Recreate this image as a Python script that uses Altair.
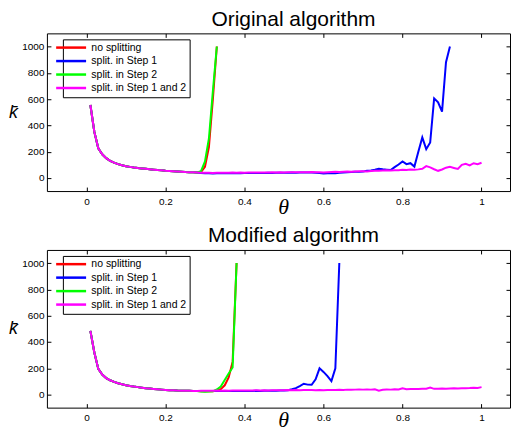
import altair as alt
import pandas as pd

SERIES = ["no splitting", "split. in Step 1", "split. in Step 2", "split. in Step 1 and 2"]
COLORS = ["#ff0000", "#0000ff", "#00ff00", "#ff00ff"]
X_TICKS = [0, 0.2, 0.4, 0.6, 0.8, 1]
Y_TICKS = [0, 200, 400, 600, 800, 1000]
THETA = [round(0.01 * i, 2) for i in range(1, 101)]

# ---- Original algorithm (theta = 0.01 ... ) ----
ORIG_START = [555, 350, 225, 180, 150, 130, 116, 105, 96, 89, 84, 79, 75, 72,
              69, 66, 63, 60, 58, 55, 53, 51, 49, 47, 45, 44, 43, 42]
ORIG_RED = [44, 85, 235, 600, 1000]
ORIG_GREEN = [52, 125, 300, 660, 1000]
ORIG_BLUE = [37, 36, 35, 34, 36, 35, 36, 35, 36, 37, 36, 37, 38, 37, 38, 38,
             37, 39, 38, 39, 40, 39, 40, 41, 40, 41, 42, 41, 42, 40, 38, 34,
             36, 38, 35, 39, 42, 44, 45, 47, 46, 48, 55, 57, 62, 70, 66, 63,
             60, 82, 102, 125, 105, 112, 86, 200, 308, 219, 270, 605, 575, 504,
             880, 1000]
ORIG_MAGENTA = [40, 39, 40, 38, 40, 39, 40, 39, 41, 40, 41, 40, 41, 42, 41, 42,
                41, 42, 43, 42, 43, 42, 43, 44, 43, 44, 43, 44, 45, 44, 43, 42,
                44, 45, 46, 45, 47, 48, 47, 49, 50, 51, 48, 53, 55, 54, 56, 58,
                57, 59, 58, 62, 60, 64, 62, 65, 70, 90, 80, 66, 54, 64, 78, 84,
                76, 68, 100, 108, 95, 112, 104, 115]

# ---- Modified algorithm ----
MOD_START = [484, 320, 195, 152, 125, 108, 96, 86, 78, 71, 65, 60, 56, 52,
             48, 45, 42, 39, 37, 35, 33, 32, 30, 29, 28, 28, 27, 27]
MOD_RED = [25, 24, 24, 25, 30, 40, 70, 130, 250, 1000]
MOD_GREEN = [22, 21, 22, 24, 38, 60, 110, 160, 205, 1000]
MOD_BLUE = [27, 26, 27, 26, 27, 26, 27, 26, 27, 26, 27, 27, 26, 27, 28, 27,
            28, 28, 29, 28, 30, 31, 33, 40, 48, 64, 82, 75, 74, 115, 199, 172,
            140, 102, 199, 1000]
MOD_MAGENTA = [28, 29, 28, 29, 30, 29, 30, 29, 30, 31, 30, 31, 30, 31, 32, 31,
               32, 31, 32, 33, 32, 33, 34, 33, 34, 33, 34, 35, 34, 33, 34, 33,
               35, 34, 35, 36, 35, 37, 36, 37, 38, 37, 38, 37, 39, 29, 36, 38,
               37, 39, 38, 48, 40, 41, 42, 41, 43, 44, 52, 43, 44, 45, 44, 46,
               47, 46, 48, 47, 49, 52, 50, 56]


def frame(start, tails):
    rows = []
    for name, tail in zip(SERIES, tails):
        for t, v in zip(THETA, start + tail):
            rows.append({"theta": t, "k": v, "series": name})
    return pd.DataFrame(rows)


W, H = 464, 158
xscale = alt.Scale(domain=[-0.1, 1.072], nice=False, zero=False)
yscale = alt.Scale(domain=[-100, 1100], nice=False, zero=False)


def x_main(title_y):
    return alt.Axis(orient="bottom", offset=-4, values=X_TICKS, format="~g",
                    title="θ", titleFont="Liberation Serif", titleFontStyle="italic",
                    titleFontWeight="normal", titleFontSize=22, titleX=236.7,
                    titleY=title_y, titleBaseline="middle", titleAlign="center",
                    labelPadding=5)


y_main = alt.Axis(orient="left", offset=-4, values=Y_TICKS, format="d",
                  title="k\u0304", titleFont="Liberation Sans", titleFontStyle="italic",
                  titleFontWeight="normal", titleFontSize=18, titleAngle=0,
                  titleX=-38, titleY=H / 2, titleBaseline="middle", titleAlign="center",
                  labelPadding=3)
x_top = alt.Axis(orient="top", offset=-4, values=X_TICKS, labels=False, title=None)
y_right = alt.Axis(orient="right", offset=-4, values=Y_TICKS, labels=False, title=None)


def panel(df, title, title_y):
    legend = alt.Legend(title=None, orient="none", legendX=16, legendY=6,
                        symbolType="M-5.9,0M-5,0H5", symbolSize=36, symbolStrokeWidth=2.5,
                        labelFont="Liberation Sans", labelFontSize=10.5, labelColor="black",
                        labelOffset=15, rowPadding=2.5, padding=3,
                        strokeColor="black", fillColor="white")
    color = alt.Color("series:N", scale=alt.Scale(domain=SERIES, range=COLORS), legend=legend)
    layers = []
    for i, s in enumerate(SERIES):
        if i == 0:
            xa, ya = x_main(title_y), y_main
        elif i == 1:
            xa, ya = x_top, y_right
        else:
            xa, ya = None, None
        layers.append(
            alt.Chart(df)
            .transform_filter(alt.datum.series == s)
            .mark_line(strokeWidth=2, clip=True)
            .encode(
                x=alt.X("theta:Q", scale=xscale, axis=xa),
                y=alt.Y("k:Q", scale=yscale, axis=ya),
                color=color,
            )
        )
    return (
        alt.layer(*layers)
        .resolve_axis(x="independent", y="independent")
        .properties(
            width=W, height=H,
            title=alt.Title(title, font="Liberation Sans", fontSize=21, fontWeight="normal",
                            color="black", anchor="middle", dx=15, offset=3),
        )
    )


orig = panel(frame(ORIG_START, [ORIG_RED, ORIG_BLUE, ORIG_GREEN, ORIG_MAGENTA]),
             "Original algorithm", 19)
mod = panel(frame(MOD_START, [MOD_RED, MOD_BLUE, MOD_GREEN, MOD_MAGENTA]),
            "Modified algorithm", 16)

chart = (
    alt.vconcat(orig, mod, spacing=7)
    .resolve_scale(color="independent")
    .resolve_legend(color="independent")
    .properties(padding=0)
    .configure(background="white")
    .configure_view(stroke="black", strokeWidth=1)
    .configure_axis(domain=False, grid=False, ticks=True, tickSize=4, tickColor="black",
                    tickWidth=1, labelFont="Liberation Sans", labelFontSize=10,
                    labelColor="black", titleColor="black")
)

chart.save("out.html", embed_options={"renderer": "svg", "actions": False})
